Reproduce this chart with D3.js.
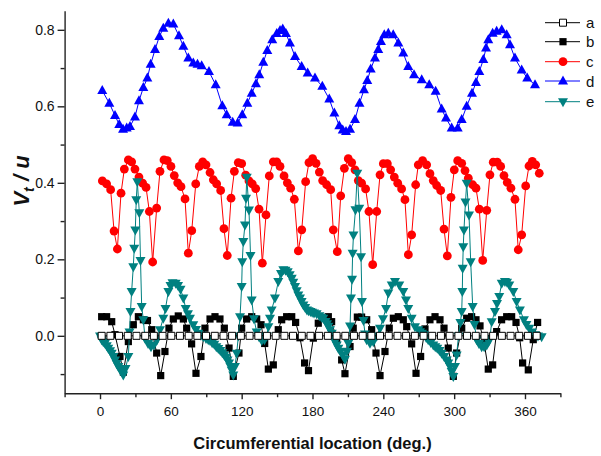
<!DOCTYPE html>
<html>
<head>
<meta charset="utf-8">
<script src="https://cdn.jsdelivr.net/npm/d3@7"></script>
<style>
  body { margin: 0; background: #fff; }
  svg { font-family: "Liberation Sans", Arial, sans-serif; }
</style>
</head>
<body>
<svg id="chart"></svg>
<script>
// circumferential positions (deg) and values
var aX = [1.4, 8.8, 16.1, 23.5, 30.9, 38.3, 45.6, 53.0, 60.4, 67.7, 75.1, 82.5, 89.8, 97.2, 104.6, 111.9,
    119.3, 126.7, 134.1, 141.4, 148.8, 156.2, 163.5, 170.9, 178.3, 185.6, 193.0, 200.4, 207.8, 215.1, 222.5,
    229.9, 237.2, 244.6, 252.0, 259.3, 266.7, 274.1, 281.4, 288.8, 296.2, 303.6, 310.9, 318.3, 325.7, 333.0,
    340.4, 347.8, 355.1, 362.5, 369.9];
var aY = [0, 0, 0, 0, 0, 0, 0, 0, 0, 0, 0, 0, 0, 0, 0, 0, 0, 0, 0, 0, 0, 0, 0, 0, 0, 0,
    0, 0, 0, 0, 0, 0, 0, 0, 0, 0, 0, 0, 0, 0, 0, 0, 0, 0, 0, 0, 0, 0, 0, 0, 0];

var seriesB = [[1.4,0.05],[5.6,0.05],[9.9,0.037],[12.7,0.003],[16.9,-0.054],[19.8,-0.095],[24,-0.015],[28.2,0.029],
    [32.5,0.05],[36.7,0.042],[40.2,0.04],[43.8,0.016],[48,-0.045],[51.4,-0.104],[55,-0.041],[58.4,0.02],[62.1,0.044],
    [66.3,0.052],[70.6,0.044],[73.4,0.02],[77.6,-0.021],[81.3,-0.098],[85.5,-0.054],[88.9,0.02],[93.2,0.044],[97.4,0.05],
    [101.6,0.044],[105.3,0.02],[109.3,-0.032],[112.9,-0.106],[117.7,-0.045],[120,0.02],[124.2,0.044],[128.5,0.05],
    [132.7,0.044],[136.4,0.029],[139.5,-0.02],[142.6,-0.087],[146.8,-0.076],[151,0.016],[153.9,0.042],[158.1,0.05],
    [162.4,0.05],[165.7,0.035],[169.4,-0.005],[173.3,-0.071],[176.6,-0.091],[180.7,-0.006],[184.9,0.033],[189.2,0.046],
    [193.4,0.05],[196.2,0.037],[200.5,-0.01],[204.7,-0.063],[207.5,-0.099],[211.8,-0.028],[214.5,0.02],[218,0.049],
    [221.6,0.049],[225.9,0.042],[230.1,0.016],[233.8,-0.045],[237.2,-0.104],[241.4,-0.041],[245,0.02],[248.5,0.046],
    [252.7,0.05],[256.9,0.042],[259.8,0.024],[264,-0.021],[267.7,-0.098],[271.6,-0.054],[275.3,0.018],[279.5,0.042],
    [283.8,0.05],[288,0.042],[291.4,0.02],[295,-0.032],[299.3,-0.106],[302.1,-0.045],[306.4,0.02],[310.6,0.046],
    [314.8,0.05],[318.5,0.042],[321.9,0.026],[325.5,-0.02],[328.9,-0.087],[332.6,-0.076],[336,0.011],[340.2,0.042],
    [344.5,0.05],[348.7,0.05],[352.4,0.035],[355.5,-0.005],[358,-0.071],[362.8,-0.089],[367,-0.01],[370.7,0.035]];

var seriesC = [[2,0.405],[5.6,0.397],[9,0.382],[11.9,0.274],[14.7,0.227],[17.8,0.373],[20.6,0.436],[24,0.46],
    [26.8,0.455],[29.6,0.436],[33,0.415],[36.1,0.399],[39,0.388],[41.8,0.325],[44.6,0.193],[48,0.334],[50.8,0.43],
    [54.2,0.46],[57,0.458],[60.1,0.443],[62.9,0.419],[65.8,0.40],[68.6,0.39],[72,0.358],[74.8,0.216],[77.7,0.275],
    [81.1,0.397],[84.1,0.443],[87,0.455],[89.8,0.447],[93.2,0.427],[96,0.408],[98.8,0.397],[102.2,0.38],[105,0.28],
    [107.8,0.21],[111,0.36],[113.8,0.43],[117.1,0.453],[120,0.45],[123.4,0.42],[126.2,0.405],[129,0.397],[131.9,0.385],
    [134.7,0.331],[137.5,0.19],[140.6,0.316],[143.4,0.418],[146.8,0.455],[149.7,0.455],[152.5,0.443],[155.9,0.418],
    [158.7,0.40],[161.5,0.386],[164.6,0.357],[168,0.222],[170.9,0.277],[174.2,0.403],[177,0.453],[180.1,0.463],
    [183,0.451],[185.8,0.428],[188.6,0.406],[192,0.395],[195.4,0.382],[197.6,0.277],[201,0.22],[203.9,0.366],
    [207,0.438],[210.3,0.463],[213.2,0.453],[216,0.434],[218.8,0.406],[221.6,0.399],[225,0.384],[227.8,0.325],
    [231,0.186],[234.4,0.325],[237.2,0.421],[240,0.45],[243.4,0.45],[246.2,0.434],[249.3,0.415],[252.2,0.399],
    [255.5,0.384],[258.3,0.356],[261.2,0.212],[264,0.264],[267.4,0.395],[269.6,0.447],[273.3,0.458],[276.7,0.447],
    [279.5,0.424],[282.3,0.406],[285.2,0.393],[288.6,0.38],[291.4,0.279],[294.2,0.209],[297.3,0.362],[300.1,0.434],
    [303,0.458],[306.4,0.451],[309.2,0.432],[312,0.412],[315.7,0.395],[318.5,0.386],[321.3,0.331],[324.2,0.197],
    [327.6,0.328],[330.3,0.421],[333.1,0.454],[336.5,0.454],[339.4,0.443],[342.2,0.419],[345,0.401],[348.1,0.386],
    [351.5,0.357],[354.3,0.225],[357.2,0.264],[360.6,0.392],[363.4,0.444],[366.2,0.456],[369.1,0.447],[372.1,0.425]];

var seriesD = [[1.9,0.641],[7.9,0.608],[12.7,0.576],[16.3,0.552],[19.5,0.54],[22.6,0.543],[25.4,0.547],[29.6,0.572],
    [33,0.614],[36.7,0.649],[40.1,0.674],[42.9,0.71],[46.6,0.748],[50.2,0.782],[53.6,0.804],[57.9,0.817],[62.1,0.815],
    [66.9,0.784],[70.6,0.757],[74.8,0.726],[79,0.713],[82.6,0.71],[86.1,0.706],[92.3,0.691],[98,0.656],[103.6,0.601],
    [107.3,0.578],[112.4,0.558],[116.6,0.556],[120.5,0.578],[124.8,0.608],[128.5,0.634],[132.1,0.659],[134.9,0.682],
    [138.3,0.715],[141.7,0.746],[145.9,0.774],[149.7,0.79],[152.5,0.798],[154.8,0.802],[157.5,0.79],[160.9,0.765],
    [165.2,0.73],[170.8,0.704],[175.9,0.687],[182.1,0.674],[188.3,0.652],[194.2,0.619],[198.5,0.582],[202.7,0.549],
    [205.6,0.538],[208.4,0.534],[211.8,0.54],[216,0.565],[219.8,0.608],[223.6,0.643],[226.4,0.667],[229.3,0.697],
    [232.9,0.726],[235.7,0.748],[238,0.769],[240.8,0.787],[244.2,0.791],[248.4,0.787],[252.7,0.765],[256.9,0.739],
    [261.1,0.704],[266,0.682],[272.5,0.669],[278.9,0.656],[284.3,0.639],[289.4,0.593],[293.1,0.569],[297.9,0.543],
    [303,0.543],[306.4,0.565],[310.6,0.6],[315.1,0.634],[318.5,0.662],[321.3,0.691],[324.7,0.722],[327,0.752],
    [328.9,0.774],[332.6,0.791],[336,0.796],[340.3,0.8],[344.5,0.787],[347.3,0.761],[351.5,0.726],[357.2,0.695],
    [361.9,0.674],[368.5,0.656]];

var seriesE = [[0,0],[1.4,-0.01],[2.8,-0.015],[4.2,-0.019],[5.7,-0.026],[7.0,-0.032],[8.5,-0.039],[9.9,-0.045],
    [11.3,-0.054],[12.7,-0.063],[14.1,-0.072],[15.5,-0.08],[16.9,-0.087],[18.4,-0.093],[19.7,-0.102],[21.6,-0.085],
    [24.0,-0.054],[25.0,0.01],[25.8,0.064],[26.8,0.116],[28.2,0.181],[29.0,0.229],[29.9,0.277],[30.7,0.356],
    [31.6,0.403],[33.3,0.322],[34.3,0.197],[35.3,0.077],[36.7,0.042],[38.1,-0.006],[40.7,-0.02],[43.2,-0.028],
    [45.7,-0.024],[48.3,-0.01],[50.8,0.016],[53.6,0.046],[55.5,0.072],[57.9,0.116],[59.7,0.132],[61.4,0.139],
    [64.1,0.138],[66.1,0.132],[68.2,0.122],[70.6,0.099],[72.6,0.072],[74.5,0.058],[76.2,0.046],[79.0,0.029],
    [81.3,0.017],[83.3,0.007],[85.5,0.002],[87.5,-0.002],[89.8,-0.007],[91.7,-0.01],[93.2,-0.012],[95.0,-0.018],
    [96.8,-0.022],[98.5,-0.028],[100.2,-0.033],[101.9,-0.038],[103.6,-0.044],[105.2,-0.05],[106.7,-0.056],
    [108.0,-0.063],[109.3,-0.071],[110.5,-0.08],[111.6,-0.09],[112.9,-0.102],[114.3,-0.08],[115.8,-0.045],
    [117.2,0],[118.6,0.05],[120.0,0.129],[120.5,0.194],[121.4,0.247],[122.8,0.29],[123.7,0.36],[124.3,0.415],
    [126.2,0.329],[127.5,0.21],[128.5,0.094],[130.4,0.045],[132.7,0.01],[134.7,-0.002],[137.0,-0.012],[139.3,-0.01],
    [141.2,0],[142.6,0.024],[144.0,0.046],[145.4,0.068],[148.2,0.099],[151.0,0.142],[153.3,0.163],[155.3,0.173],
    [157.1,0.172],[159.0,0.168],[160.7,0.16],[162.4,0.151],[163.7,0.14],[165.2,0.129],[166.6,0.118],[168.0,0.107],
    [169.4,0.099],[170.8,0.09],[172.3,0.081],[173.8,0.074],[175.3,0.068],[176.7,0.066],[178.3,0.064],[179.7,0.062],
    [181.3,0.06],[183.5,0.058],[185.8,0.053],[187.6,0.049],[189.1,0.046],[191.0,0.038],[192.3,0.032],[193.4,0.025],
    [194.8,0.016],[196.3,0.007],[197.6,-0.004],[199.1,-0.015],[200.5,-0.024],[201.9,-0.032],[203.7,-0.041],
    [205.6,-0.05],[207.5,-0.061],[209.2,-0.04],[210.3,-0.019],[211.8,0.026],[212.6,0.099],[213.5,0.148],[214.0,0.216],
    [214.7,0.264],[216.4,0.33],[217.9,0.425],[219.6,0.334],[221.1,0.207],[221.9,0.09],[223.2,0.04],[224.5,0.005],
    [225.9,-0.01],[228.7,-0.019],[231.5,-0.015],[234.4,0],[237.2,0.02],[239.7,0.045],[242.3,0.072],[244.2,0.112],
    [247.1,0.133],[249.9,0.142],[253.5,0.133],[256.9,0.116],[259.2,0.094],[261.1,0.072],[264.0,0.046],[266.8,0.024],
    [269.6,0.016],[271.0,0.011],[272.7,0.007],[274.4,0.003],[276.3,-0.004],[278.0,-0.01],[280.2,-0.017],[282.3,-0.024],
    [284.0,-0.028],[285.7,-0.032],[287.6,-0.038],[289.4,-0.045],[291.5,-0.054],[293.7,-0.063],[295.0,-0.071],
    [296.5,-0.08],[297.9,-0.093],[299.3,-0.106],[300.7,-0.08],[302.1,-0.05],[303.7,0],[305.3,0.035],[306.4,0.064],
    [306.9,0.116],[307.2,0.177],[307.7,0.233],[308.3,0.277],[309.6,0.35],[310.6,0.399],[312.6,0.316],[314.0,0.194],
    [315.7,0.077],[317.2,0.03],[319.1,-0.01],[321.0,-0.02],[323.3,-0.028],[325.4,-0.028],[327.6,-0.024],[329.1,-0.015],
    [330.3,-0.006],[331.8,0.037],[334.6,0.064],[336.3,0.085],[338.2,0.103],[340.3,0.138],[343.0,0.142],[344.8,0.14],
    [346.7,0.133],[350.1,0.116],[352.9,0.09],[355.7,0.068],[359.1,0.042],[361.2,0.03],[363.6,0.02],[365.9,0.01],
    [368.5,0.003],[371.0,0],[374.1,-0.002]];

var seriesNames = ['a', 'b', 'c', 'd', 'e'];
var xTicks = [0, 60, 120, 180, 240, 300, 360];
var xMinor = [-30, 30, 90, 150, 210, 270, 330, 390];
var yTicks = [0.0, 0.2, 0.4, 0.6, 0.8];
var yMinor = [-0.1, 0.1, 0.3, 0.5, 0.7];

var width = 601, height = 456;
var svg = d3.select('#chart').attr('width', width).attr('height', height);

svg.append('rect').attr('width', width).attr('height', height).attr('fill', '#fff');

var x = d3.scaleLinear().domain([-30, 390]).range([64.6, 560.4]);
var y = d3.scaleLinear().domain([-0.15, 0.85]).range([393.2, 10.7]);

// marker shapes
var shapes = {
    openSquare: 'M-3.5,-3.5H3.5V3.5H-3.5Z',
    square: 'M-3.6,-3.6H3.6V3.6H-3.6Z',
    up: 'M0,-5.6L5,3.4L-5,3.4Z',
    down: 'M0,5.6L5,-3.4L-5,-3.4Z'
};

var styles = {
    a: {color: '#000', shape: 'openSquare', fill: '#fff'},
    b: {color: '#000', shape: 'square', fill: '#000'},
    c: {color: '#ff0000', shape: 'circle', fill: '#ff0000'},
    d: {color: '#0000ff', shape: 'up', fill: '#0000ff'},
    e: {color: '#008080', shape: 'down', fill: '#008080'}
};

function drawMarker(g, name, px, py) {
    var s = styles[name];
    if (s.shape === 'circle') {
        g.append('circle').attr('cx', px).attr('cy', py).attr('r', 4.4).attr('fill', s.fill);
    } else {
        g.append('path')
            .attr('d', shapes[s.shape])
            .attr('transform', 'translate(' + px + ',' + py + ')')
            .attr('fill', s.fill)
            .attr('stroke', name === 'a' ? '#000' : 'none')
            .attr('stroke-width', 1);
    }
}

var line = d3.line()
    .x(function (d) { return x(d[0]); })
    .y(function (d) { return y(d[1]); });

var seriesA = aX.map(function (v, i) { return [v, aY[i]]; });
var data = {a: seriesA, b: seriesB, c: seriesC, d: seriesD, e: seriesE};

// draw order: d, c, b, e, a (a sits on top)
['d', 'c', 'b', 'e', 'a'].forEach(function (name) {
    var g = svg.append('g').attr('class', 'series ' + name);
    g.append('path')
        .datum(data[name])
        .attr('d', line)
        .attr('fill', 'none')
        .attr('stroke', styles[name].color)
        .attr('stroke-width', 1);
    data[name].forEach(function (d) {
        drawMarker(g, name, x(d[0]), y(d[1]));
    });
});

// axes
var axisColor = '#222';
var xAxis = svg.append('g').attr('transform', 'translate(0,' + y.range()[0] + ')');
xAxis.call(d3.axisBottom(x).tickValues(xTicks).tickSize(6).tickSizeOuter(0).tickFormat(d3.format('d')));
xAxis.append('g').call(d3.axisBottom(x).tickValues(xMinor).tickSize(4).tickSizeOuter(0).tickFormat(''))
    .select('.domain').remove();
xAxis.selectAll('.domain, line').attr('stroke', axisColor).attr('stroke-width', 1.4);
xAxis.selectAll('text').attr('font-size', 13.5).attr('fill', '#111')
    .attr('font-family', '"Liberation Sans", Arial, sans-serif').attr('dy', '1.05em');

var yAxis = svg.append('g').attr('transform', 'translate(' + x.range()[0] + ',0)');
yAxis.call(d3.axisLeft(y).tickValues(yTicks).tickSize(7).tickSizeOuter(0).tickFormat(d3.format('.1f')));
yAxis.append('g').call(d3.axisLeft(y).tickValues(yMinor).tickSize(4).tickSizeOuter(0).tickFormat(''))
    .select('.domain').remove();
yAxis.selectAll('.domain, line').attr('stroke', axisColor).attr('stroke-width', 1.4);
yAxis.selectAll('text').attr('font-size', 14).attr('fill', '#111')
    .attr('font-family', '"Liberation Sans", Arial, sans-serif').attr('x', -10);

// axis titles
svg.append('text')
    .attr('x', 312.5).attr('y', 449)
    .attr('text-anchor', 'middle')
    .attr('font-size', 16.5).attr('font-weight', 'bold').attr('fill', '#111')
    .text('Circumferential location (deg.)');

var yt = svg.append('text')
    .attr('transform', 'translate(29,181) rotate(-90)')
    .attr('text-anchor', 'middle')
    .attr('font-size', 22).attr('font-weight', 'bold').attr('font-style', 'italic').attr('fill', '#111');
yt.append('tspan').text('V');
yt.append('tspan').attr('font-size', 14).attr('dy', 5).text('t');
yt.append('tspan').attr('dy', -5).text(' / u');

// legend
var legendY = [22.7, 41.7, 61.7, 81, 101.7];
seriesNames.forEach(function (name, i) {
    var g = svg.append('g').attr('class', 'legend');
    g.append('line').attr('x1', 545).attr('x2', 580).attr('y1', legendY[i]).attr('y2', legendY[i])
        .attr('stroke', styles[name].color).attr('stroke-width', 1);
    drawMarker(g, name, 563, legendY[i]);
    g.append('text').attr('x', 586).attr('y', legendY[i] + 5.5)
        .attr('font-size', 15).attr('fill', '#111').text(name);
});
</script>
</body>
</html>
